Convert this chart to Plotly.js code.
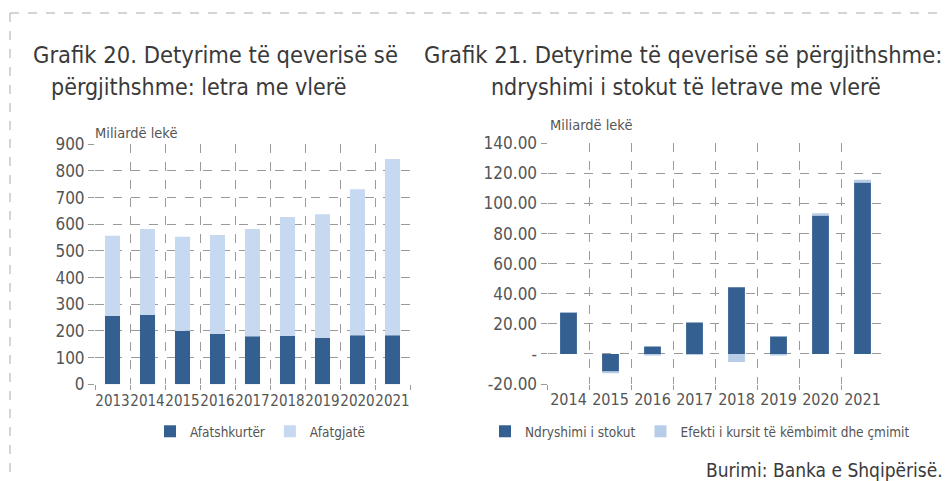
<!DOCTYPE html>
<html><head><meta charset="utf-8">
<script src="https://cdn.plot.ly/plotly-3.0.1.min.js"></script>
<style>body{margin:0;background:#fff}</style>
</head><body><div id="chart" style="width:945px;height:481px"></div>
<script>
const years1 = ['2013','2014','2015','2016','2017','2018','2019','2020','2021'];
const shortTerm = [257,261,201,190,180,182,175,184,184];
const longTerm = [300,321,352,370,402,445,463,547,661];
const years2 = ['2014','2015','2016','2017','2018','2019','2020','2021'];
const stockChange = [27.5,-11.7,4.9,20.8,44.3,11.5,92.0,113.9];
const fxEffect = [0.3,-1.2,-1.1,-0.8,-5.3,-1.0,1.5,1.8];
const yTicks2 = [-20,0,20,40,60,80,100,120,140];
const yTickText2 = ['-20.00','-','20.00','40.00','60.00','80.00','100.00','120.00','140.00'];

const W = 945, H = 481;
const px = v => v / W;
const py = v => 1 - v / H;
const FONT = 'DejaVu Sans Condensed, sans-serif';
const TXT = '#555';
const TTL = '#3a3a3a';
const DARK = '#345f91';
const LIGHT1 = '#c6d9f0';
const LIGHT2 = '#b7cce6';
const GRID = '#9a9a9a';

const traces = [
  {type:'bar', x:years1, y:shortTerm, name:'Afatshkurtër', marker:{color:DARK}, width:0.43, xaxis:'x', yaxis:'y', legend:'legend'},
  {type:'bar', x:years1, y:longTerm, name:'Afatgjatë', marker:{color:LIGHT1}, width:0.43, xaxis:'x', yaxis:'y', legend:'legend'},
  {type:'bar', x:years2, y:stockChange, name:'Ndryshimi i stokut', marker:{color:DARK}, width:0.4, xaxis:'x2', yaxis:'y2', legend:'legend2'},
  {type:'bar', x:years2, y:fxEffect, name:'Efekti i kursit të këmbimit dhe çmimit', marker:{color:LIGHT2}, width:0.4, xaxis:'x2', yaxis:'y2', legend:'legend2'}
];

const axBase = {
  showgrid:true, gridcolor:GRID, griddash:'dash', gridwidth:1,
  zeroline:false, showline:false,
  ticks:'outside', ticklen:6, tickcolor:GRID,
  tickfont:{family:FONT, size:17, color:TXT}, fixedrange:true
};

const layout = {
  width:W, height:H,
  margin:{l:0,r:0,t:0,b:0,autoexpand:false},
  paper_bgcolor:'#fff', plot_bgcolor:'#fff',
  barmode:'relative',
  showlegend:true,
  font:{family:FONT, color:TXT},
  xaxis:Object.assign({}, axBase, {domain:[px(95),px(410)], anchor:'y', type:'category', tickson:'boundaries', tickangle:0, ticklen:5, ticklabelstandoff:6, tickfont:{family:FONT,size:15,color:TXT}}),
  yaxis:Object.assign({}, axBase, {domain:[py(384.3),py(144.3)], anchor:'x', range:[0,900], dtick:100, tick0:0}),
  xaxis2:Object.assign({}, axBase, {domain:[px(547.5),px(883.5)], anchor:'y2', type:'category', tickson:'boundaries', tickangle:0, ticklen:5, ticklabelstandoff:4, tickfont:{family:FONT,size:16,color:TXT}}),
  yaxis2:Object.assign({}, axBase, {domain:[py(384),py(143.3)], anchor:'x2', range:[-20,140], tickmode:'array', tickvals:yTicks2, ticktext:yTickText2}),
  legend:{orientation:'h', x:px(150), y:py(416), xanchor:'left', yanchor:'top', font:{family:FONT,size:13.5,color:TXT}, bgcolor:'rgba(0,0,0,0)'},
  legend2:{orientation:'h', x:px(485), y:py(416), xanchor:'left', yanchor:'top', font:{family:FONT,size:13.5,color:TXT}, bgcolor:'rgba(0,0,0,0)'},
  annotations:[
    {text:'Grafik 20. Detyrime të qeverisë së', x:px(215), y:py(55), xref:'paper', yref:'paper', xanchor:'center', yanchor:'middle', showarrow:false, font:{family:FONT,size:23.5,color:TTL}},
    {text:'përgjithshme: letra me vlerë', x:px(198), y:py(87), xref:'paper', yref:'paper', xanchor:'center', yanchor:'middle', showarrow:false, font:{family:FONT,size:23,color:TTL}},
    {text:'Grafik 21. Detyrime të qeverisë së përgjithshme:', x:px(683), y:py(55), xref:'paper', yref:'paper', xanchor:'center', yanchor:'middle', showarrow:false, font:{family:FONT,size:23.5,color:TTL}},
    {text:'ndryshimi i stokut të letrave me vlerë', x:px(686), y:py(87), xref:'paper', yref:'paper', xanchor:'center', yanchor:'middle', showarrow:false, font:{family:FONT,size:23,color:TTL}},
    {text:'Miliardë lekë', x:px(93), y:py(133), xref:'paper', yref:'paper', xanchor:'left', yanchor:'middle', showarrow:false, font:{family:FONT,size:14.5,color:TXT}},
    {text:'Miliardë lekë', x:px(548), y:py(125), xref:'paper', yref:'paper', xanchor:'left', yanchor:'middle', showarrow:false, font:{family:FONT,size:14.5,color:TXT}},
    {text:'Burimi: Banka e Shqipërisë.', x:px(945), y:py(470), xref:'paper', yref:'paper', xanchor:'right', yanchor:'middle', showarrow:false, font:{family:FONT,size:19,color:TTL}}
  ],
  shapes:[
    {type:'line', xref:'paper', yref:'paper', x0:px(10), x1:1, y0:py(13), y1:py(13), line:{color:'#aaa', width:1, dash:'dash'}},
    {type:'line', xref:'paper', yref:'paper', x0:px(10), x1:px(10), y0:py(13), y1:0, line:{color:'#aaa', width:1, dash:'dash'}}
  ]
};

Plotly.newPlot('chart', traces, layout, {displayModeBar:false, staticPlot:true});
</script></body></html>
